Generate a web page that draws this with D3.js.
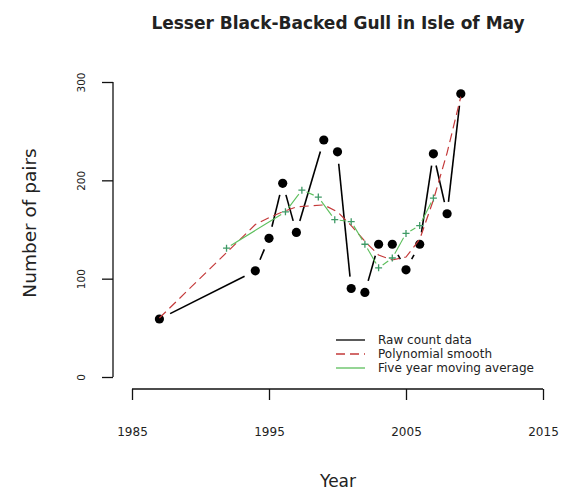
<!DOCTYPE html>
<html>
<head>
<meta charset="utf-8">
<script src="https://cdn.jsdelivr.net/npm/d3@7"></script>
<style>
  body { margin: 0; background: #fff; }
  text { font-family: "DejaVu Sans", sans-serif; fill: #222; }
</style>
</head>
<body>
<div id="chart"></div>
<script>
// Chart data
const years = [1987, 1994, 1995, 1996, 1997, 1999, 2000, 2001, 2002, 2003, 2004, 2005, 2006, 2007, 2008, 2009];
const pairs = [59, 108, 141, 197, 147, 241, 229, 90, 86, 135, 135, 109, 135, 227, 166, 288];
const smooth = [60, 155, 162, 168, 173, 175, 168, 154, 138, 124, 119, 122, 140, 180, 228, 285];
const maYears = [1991.9, 1996.2, 1997.4, 1998.6, 1999.8, 2001, 2002, 2003, 2004, 2005, 2006, 2007];
const maValues = [131, 168, 190, 183, 160, 158, 135, 111, 121, 146, 154, 182];
const xTicks = [1985, 1995, 2005, 2015];
const yTicks = [0, 100, 200, 300];
const legendLabels = ["Raw count data", "Polynomial smooth", "Five year moving average"];

const width = 563;
const height = 490;

const svg = d3.select("#chart")
    .append("svg")
    .attr("width", width)
    .attr("height", height);

// Scales
const x = d3.scaleLinear().domain([1985, 2015]).range([132, 543]);
const y = d3.scaleLinear().domain([0, 300]).range([377, 82]);

// Axes (R style: line between first and last tick)
const xAxis = svg.append("g").attr("transform", "translate(0,389)")
    .call(d3.axisBottom(x).tickValues(xTicks).tickFormat(d3.format("d")).tickSize(11).tickPadding(27));
xAxis.select(".domain").attr("d", `M${x(1985)},0H${x(2015)}`).attr("stroke", "#111").attr("stroke-width", 1.3);
xAxis.selectAll(".tick line").attr("stroke", "#111").attr("stroke-width", 1.3);
xAxis.selectAll(".tick text").style("font-family", "DejaVu Sans").style("font-size", "12px").attr("fill", "#222");

const yAxis = svg.append("g").attr("transform", "translate(113,0)")
    .call(d3.axisLeft(y).tickValues(yTicks).tickSize(11));
yAxis.select(".domain").attr("d", `M0,${y(0)}V${y(300)}`).attr("stroke", "#111").attr("stroke-width", 1.3);
yAxis.selectAll(".tick line").attr("stroke", "#111").attr("stroke-width", 1.3);
yAxis.selectAll(".tick text")
    .attr("x", null).attr("dy", null)
    .attr("transform", "translate(-28,0) rotate(-90)")
    .attr("text-anchor", "middle")
    .style("font-family", "DejaVu Sans").style("font-size", "10.5px").attr("fill", "#222");

// Titles
svg.append("text")
    .attr("x", 338).attr("y", 29)
    .attr("text-anchor", "middle")
    .style("font-weight", "bold").style("font-size", "17px")
    .text("Lesser Black-Backed Gull in Isle of May");

svg.append("text")
    .attr("x", 338).attr("y", 487)
    .attr("text-anchor", "middle")
    .style("font-size", "17px")
    .text("Year");

svg.append("text")
    .attr("transform", "translate(36,223) rotate(-90)")
    .attr("text-anchor", "middle")
    .style("font-size", "18.5px")
    .text("Number of pairs");

// Segments with gaps around points (R type = "b")
function gapSegments(xs, ys, gap) {
    const segs = [];
    for (let i = 0; i < xs.length - 1; i++) {
        const x0 = x(xs[i]), y0 = y(ys[i]), x1 = x(xs[i + 1]), y1 = y(ys[i + 1]);
        const len = Math.hypot(x1 - x0, y1 - y0);
        if (len <= 2 * gap) continue;
        const ux = (x1 - x0) / len, uy = (y1 - y0) / len;
        segs.push([x0 + ux * gap, y0 + uy * gap, x1 - ux * gap, y1 - uy * gap]);
    }
    return segs;
}

// Raw counts
svg.append("g").selectAll("line")
    .data(gapSegments(years, pairs, 12))
    .enter().append("line")
    .attr("x1", d => d[0]).attr("y1", d => d[1])
    .attr("x2", d => d[2]).attr("y2", d => d[3])
    .attr("stroke", "#000").attr("stroke-width", 1.6);

svg.append("g").selectAll("circle")
    .data(years)
    .enter().append("circle")
    .attr("cx", d => x(d))
    .attr("cy", (d, i) => y(pairs[i]))
    .attr("r", 4.6)
    .attr("fill", "#000");

// Polynomial smooth
const line = d3.line().x(d => x(d[0])).y(d => y(d[1]));
svg.append("path")
    .datum(years.map((d, i) => [d, smooth[i]]))
    .attr("d", line)
    .attr("fill", "none")
    .attr("stroke", "#c43a3a")
    .attr("stroke-width", 1.2)
    .attr("stroke-dasharray", "9,5");

// Moving average
svg.append("g").selectAll("line")
    .data(gapSegments(maYears, maValues, 5))
    .enter().append("line")
    .attr("x1", d => d[0]).attr("y1", d => d[1])
    .attr("x2", d => d[2]).attr("y2", d => d[3])
    .attr("stroke", "#5cbf5c").attr("stroke-width", 1.1);

svg.append("g").selectAll("path")
    .data(maYears)
    .enter().append("path")
    .attr("d", (d, i) => `M${x(d) - 3.5},${y(maValues[i])}h7M${x(d)},${y(maValues[i]) - 3.5}v7`)
    .attr("stroke", "#3f9a66").attr("stroke-width", 1.3);

// Legend
const legendColors = ["#000", "#c43a3a", "#5cbf5c"];
const legendDash = [null, "9,5", null];
const legend = svg.append("g");
legendLabels.forEach((label, i) => {
    const row = legend.append("g").attr("transform", `translate(0, ${340 + i * 14})`);
    row.append("line")
        .attr("x1", 336).attr("x2", 365)
        .attr("stroke", legendColors[i])
        .attr("stroke-width", 1.3)
        .attr("stroke-dasharray", legendDash[i]);
    row.append("text")
        .attr("x", 378).attr("y", 4)
        .style("font-size", "12px")
        .text(label);
});
</script>
</body>
</html>
